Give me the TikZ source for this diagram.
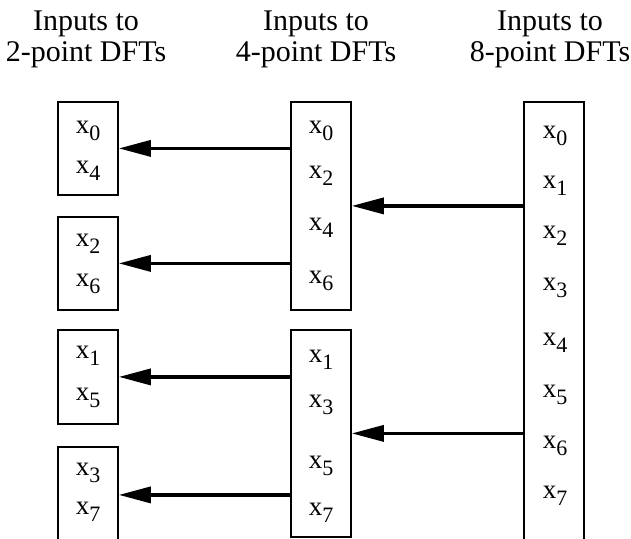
\documentclass[tikz,border=0pt]{standalone}
\usepackage{fontspec}
\setmainfont{Liberation Serif}
\usetikzlibrary{arrows.meta}

% an input sample x_n: the index is set smaller and dropped below the baseline
\newcommand{\sample}[1]{x\raisebox{-7pt}{\fontsize{22}{22}\selectfont #1}}

\tikzset{
  frame/.style={draw, line width=1.8pt, inner sep=0pt, anchor=north west},
  smp/.style={font=\fontsize{27}{27}\selectfont, inner sep=0pt, anchor=base},
  ttl/.style={font=\fontsize{30}{31}\selectfont, align=center, inner sep=0pt, anchor=base},
  feed/.style={line width=3.4pt, -{Triangle[length=32pt, width=16pt]}},
}

\begin{document}
\begin{tikzpicture}[x=1pt, y=-1pt]
\useasboundingbox (0,0) rectangle (631,538);
\begin{scope}
\clip (0,0) rectangle (631,538);

% column titles
\node[ttl] (t2) at (86,30) {Inputs to};
\node[ttl] (t2b) at (86,61) {2-point DFTs};
\node[ttl] (t4) at (316,30) {Inputs to};
\node[ttl] (t4b) at (316,61) {4-point DFTs};
\node[ttl] (t8) at (550,30) {Inputs to};
\node[ttl] (t8b) at (550,61) {8-point DFTs};

% boxes holding the inputs of each DFT size
\node[frame, minimum width=60pt, minimum height=93pt] (a1) at (57,101) {};
\node[frame, minimum width=60pt, minimum height=93pt] (a2) at (57,216) {};
\node[frame, minimum width=60pt, minimum height=94pt] (a3) at (57,329) {};
\node[frame, minimum width=60pt, minimum height=96pt] (a4) at (57,446) {};
\node[frame, minimum width=60pt, minimum height=208pt] (b1) at (290,101) {};
\node[frame, minimum width=60pt, minimum height=207pt] (b2) at (290,329) {};
\node[frame, minimum width=60pt, minimum height=460pt] (c1) at (523,101) {};

% samples inside the 2-point boxes
\node[smp] (a1s0) at (88,133) {\sample{0}};
\node[smp] (a1s4) at (88,173) {\sample{4}};
\node[smp] (a2s2) at (88,246) {\sample{2}};
\node[smp] (a2s6) at (88,286) {\sample{6}};
\node[smp] (a3s1) at (88,358) {\sample{1}};
\node[smp] (a3s5) at (88,400) {\sample{5}};
\node[smp] (a4s3) at (88,475) {\sample{3}};
\node[smp] (a4s7) at (88,514) {\sample{7}};

% samples inside the 4-point boxes
\node[smp] (b1s0) at (321,133) {\sample{0}};
\node[smp] (b1s2) at (321,178) {\sample{2}};
\node[smp] (b1s4) at (321,230) {\sample{4}};
\node[smp] (b1s6) at (321,283) {\sample{6}};
\node[smp] (b2s1) at (321,362) {\sample{1}};
\node[smp] (b2s3) at (321,407) {\sample{3}};
\node[smp] (b2s5) at (321,468) {\sample{5}};
\node[smp] (b2s7) at (321,515) {\sample{7}};

% samples inside the 8-point box
\node[smp] (c1s0) at (555,138) {\sample{0}};
\node[smp] (c1s1) at (555,188) {\sample{1}};
\node[smp] (c1s2) at (555,238) {\sample{2}};
\node[smp] (c1s3) at (555,290) {\sample{3}};
\node[smp] (c1s4) at (555,345) {\sample{4}};
\node[smp] (c1s5) at (555,397) {\sample{5}};
\node[smp] (c1s6) at (555,448) {\sample{6}};
\node[smp] (c1s7) at (555,498) {\sample{7}};

% splitting arrows
\draw[feed] (c1.west |- b1.east) -- (b1.east);
\draw[feed] (c1.west |- b2.east) -- (b2.east);
\draw[feed] (b1.west |- a1.east) -- (a1.east);
\draw[feed] (b1.west |- a2.east) -- (a2.east);
\draw[feed] (b2.west |- a3.east) -- (a3.east);
\draw[feed] (b2.west |- a4.east) -- (a4.east);
\end{scope}
\end{tikzpicture}
\end{document}
